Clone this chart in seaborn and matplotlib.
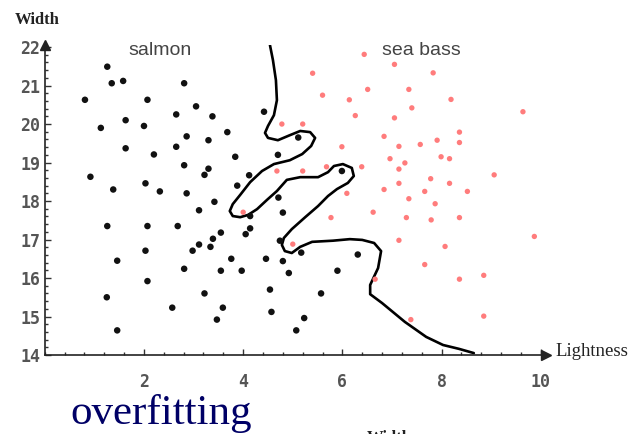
import numpy as np
import pandas as pd
import seaborn as sns
import matplotlib
matplotlib.use('Agg')
import matplotlib.pyplot as plt
from matplotlib.ticker import MultipleLocator

# salmon (black dots)
salmon_x = [1.26, 1.35, 1.58, 2.81, 0.81, 2.07, 3.05, 2.65, 3.38, 1.13, 1.63, 2.00,
            3.68, 2.86, 3.30, 1.63, 2.65, 2.20, 3.84, 2.81, 3.30, 3.22, 0.92, 1.38,
            2.03, 2.32, 2.86, 3.88, 3.42, 3.11, 1.26, 2.07, 2.68, 3.55, 3.39, 3.11,
            3.34, 2.03, 2.98, 1.46, 3.76, 2.81, 3.55, 2.07, 1.25, 3.22, 2.57, 3.59,
            3.47, 1.46, 4.14, 4.71, 4.80, 4.14, 4.05, 4.74, 5.17, 4.46, 4.80, 3.97,
            4.92, 6.31, 5.90, 4.54, 5.57, 4.57, 5.23, 5.07, 4.42, 5.11, 4.70, 4.12,
            5.99]
salmon_y = [21.49, 21.06, 21.12, 21.06, 20.63, 20.63, 20.46, 20.25, 20.20, 19.90, 20.10, 19.95,
            19.79, 19.68, 19.58, 19.37, 19.41, 19.21, 19.15, 18.93, 18.84, 18.68, 18.63, 18.30,
            18.46, 18.25, 18.20, 18.40, 17.98, 17.76, 17.35, 17.35, 17.35, 17.18, 17.02, 16.87,
            16.81, 16.71, 16.71, 16.45, 16.50, 16.24, 16.19, 15.92, 15.50, 15.60, 15.23, 15.23,
            14.92, 14.64, 17.61, 18.09, 17.70, 17.29, 17.14, 16.97, 16.66, 16.50, 16.44, 16.19,
            16.13, 16.61, 16.19, 15.70, 15.60, 15.12, 14.96, 14.64, 20.32, 19.65, 19.20, 18.67,
            18.78]

# sea bass (pink dots)
bass_x = [6.44, 7.05, 7.83, 6.51, 7.34, 8.19, 7.40, 9.64, 7.05, 8.36, 6.84, 7.91,
          8.36, 7.14, 7.57, 6.96, 7.99, 8.16, 7.26, 6.39, 7.14, 9.06, 7.78, 7.14,
          8.16, 6.84, 7.66, 8.52, 7.34, 7.87, 6.62, 7.29, 7.79, 8.36, 9.87, 7.14,
          8.07, 7.66, 8.85, 8.36, 6.66, 7.38, 8.85, 5.40, 5.60, 6.14, 6.26, 4.78,
          5.20, 5.99, 4.68, 5.20, 5.68, 6.09, 4.00, 5.00, 5.77]
bass_y = [21.81, 21.55, 21.33, 20.90, 20.90, 20.64, 20.42, 20.32, 20.16, 19.79, 19.68, 19.58,
          19.52, 19.42, 19.47, 19.10, 19.15, 19.10, 18.99, 18.89, 18.83, 18.68, 18.58, 18.46,
          18.46, 18.30, 18.25, 18.25, 18.06, 17.93, 17.71, 17.57, 17.51, 17.57, 17.08, 16.98,
          16.82, 16.35, 16.07, 15.97, 15.97, 14.92, 15.01, 21.32, 20.75, 20.63, 20.22, 20.00,
          20.00, 19.41, 18.78, 18.78, 18.89, 18.20, 17.71, 16.88, 17.57]

# the wiggly decision boundary, top to bottom
boundary_x = [4.54, 4.60, 4.66, 4.68, 4.62, 4.50, 4.44, 4.50, 4.70, 4.94, 5.15, 5.35,
              5.45, 5.37, 5.19, 4.94, 4.62, 4.38, 4.14, 3.94, 3.79, 3.73, 3.79, 3.94,
              4.10, 4.28, 4.48, 4.68, 4.88, 5.15, 5.51, 5.71, 5.83, 6.01, 6.19, 6.23,
              6.11, 5.89, 5.71, 5.51, 5.25, 4.98, 4.82, 4.78, 4.84, 4.98, 5.15, 5.39,
              5.81, 6.15, 6.40, 6.64, 6.78, 6.72, 6.56, 6.56, 6.80, 7.26, 7.69, 8.03,
              8.35, 8.65]
boundary_y = [22.05, 21.66, 21.14, 20.62, 20.23, 19.95, 19.77, 19.64, 19.58, 19.71, 19.82, 19.79,
              19.64, 19.43, 19.22, 19.06, 18.96, 18.78, 18.49, 18.16, 17.92, 17.74, 17.61, 17.58,
              17.64, 17.79, 18.03, 18.26, 18.55, 18.62, 18.62, 18.75, 18.91, 18.96, 18.86, 18.65,
              18.47, 18.31, 18.13, 17.87, 17.58, 17.27, 17.04, 16.86, 16.70, 16.65, 16.81, 16.94,
              16.97, 17.01, 16.99, 16.91, 16.70, 16.26, 15.82, 15.58, 15.35, 14.86, 14.47, 14.26,
              14.16, 14.05]

xticks = [2, 4, 6, 8, 10]
yticks = [14, 15, 16, 17, 18, 19, 20, 21, 22]

sns.set_style('white')
fig = plt.figure(figsize=(6.36, 4.34), dpi=100)
ax = fig.add_axes([0.0704, 0.182, 0.7877, 0.714])

bound = pd.DataFrame({'x': boundary_x, 'y': boundary_y})
sns.lineplot(data=bound, x='x', y='y', sort=False, estimator=None,
             color='black', linewidth=1.9, ax=ax, zorder=2)

fish = pd.DataFrame({
    'Lightness': salmon_x + bass_x,
    'Width': salmon_y + bass_y,
    'kind': ['salmon'] * len(salmon_x) + ['sea bass'] * len(bass_x),
})
sns.scatterplot(data=fish, x='Lightness', y='Width', hue='kind', size='kind',
                palette={'salmon': '#111111', 'sea bass': '#ff7c7c'},
                sizes={'salmon': 22, 'sea bass': 15},
                linewidth=0, legend=False, ax=ax, zorder=3)

ax.set_xlim(0, 10.1)
ax.set_ylim(14, 22.05)
ax.set_xlabel('')
ax.set_ylabel('')
for s in ['top', 'right']:
    ax.spines[s].set_visible(False)
for s in ['left', 'bottom']:
    ax.spines[s].set_linewidth(1.2)
    ax.spines[s].set_color('#222222')

ax.set_xticks(xticks)
ax.set_yticks(yticks)
ax.xaxis.set_minor_locator(MultipleLocator(0.4))
ax.yaxis.set_minor_locator(MultipleLocator(0.2))
ax.tick_params(which='both', direction='in', color='#333333', width=1.0)
ax.tick_params(which='major', length=4.5)
ax.tick_params(which='minor', length=2.5)
ax.tick_params(axis='x', which='both', bottom=True, pad=13)
ax.tick_params(axis='y', which='both', left=True, pad=3)
for lab in ax.get_xticklabels() + ax.get_yticklabels():
    lab.set_family('DejaVu Sans Mono')
    lab.set_fontsize(12)
    lab.set_color('#555555')
    lab.set_fontweight('bold')

# arrow heads on the axes
ax.plot(1, 0, '>', color='#222222', ms=7, transform=ax.transAxes, clip_on=False)
ax.plot(0, 1, '^', color='#222222', ms=7, transform=ax.transAxes, clip_on=False)

ax.text(2.32, 21.92, 'salmon', ha='center', va='center', fontsize=14,
        family='Liberation Sans', color='#444444')
ax.text(7.59, 21.92, 'sea bass', ha='center', va='center', fontsize=14,
        family='Liberation Sans', color='#444444')

fig.text(0.0236, 0.954, 'Width', ha='left', va='center', fontsize=12,
         family='Liberation Serif', weight='bold', color='#222222')
fig.text(0.874, 0.189, 'Lightness', ha='left', va='center', fontsize=13.5,
         family='Liberation Serif', color='#222222')
fig.text(0.11, 0.023, 'overfitting', ha='left', va='baseline', fontsize=31,
         family='Liberation Serif', color='#000066')
fig.text(0.577, 0.009, 'Width', ha='left', va='top', fontsize=12,
         family='Liberation Serif', weight='bold', color='#222222')

fig.savefig('out.png', dpi=100)
